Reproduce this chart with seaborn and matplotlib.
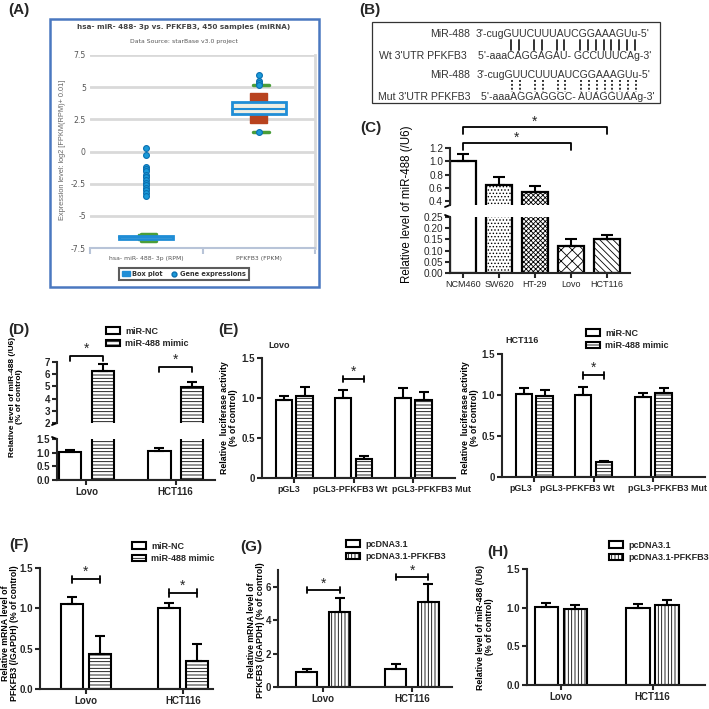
import numpy as np
import pandas as pd
import seaborn as sns
import matplotlib.pyplot as plt
import matplotlib.patches as mpatches
import matplotlib.transforms as mtransforms
from matplotlib.lines import Line2D
from matplotlib.font_manager import FontProperties
from matplotlib.textpath import text_to_path

# ---------------- data ----------------
# (A) starBase box plot
a_cats = ['hsa- miR- 488- 3p (RPM)', 'PFKFB3 (FPKM)']
a_q1 = [-6.78, 2.95]
a_median = [-6.66, 3.3]
a_q3 = [-6.55, 3.83]
a_whisker_lo = [-6.92, 1.55]
a_whisker_hi = [-6.42, 5.17]
a_band_lo = [-6.9, 2.2]
a_band_hi = [-6.45, 4.55]
a_mir_points = [0.31, -0.28, -1.24, -1.37, -1.55, -1.81, -2.02, -2.23,
                -2.41, -2.59, -2.80, -3.0, -3.24, -3.45]
a_pfkfb3_points = [5.93, 5.49, 5.31, 5.18, 1.5]
a_yticks = [-7.5, -5, -2.5, 0, 2.5, 5, 7.5]

# (B) binding sites
b_labels = ['MiR-488', "Wt 3'UTR PFKFB3", 'MiR-488', "Mut 3'UTR PFKFB3"]
b_seqs = ["3'-cugGUUCUUUAUCGGAAAGUu-5'", "5'-aaaCAGGAGAU- GCCUUUCAg-3'",
          "3'-cugGUUCUUUAUCGGAAAGUu-5'", "5'-aaaAGGAGGGC- AUAGGUAAg-3'"]
b_paired = [6, 7, 9, 10, 12, 13, 15, 16, 17, 18, 19, 20, 21, 22]

# (C) miR-488 in cell lines
c_lines = ['NCM460', 'SW620', 'HT-29', 'Lovo', 'HCT116']
c_level = [1.0, 0.64, 0.53, 0.12, 0.15]
c_err = [0.11, 0.12, 0.09, 0.03, 0.02]

# (D) miR-488 after mimic
cells = ['Lovo', 'HCT116']
mir_groups = ['miR-NC', 'miR-488 mimic']
d_nc = [1.03, 1.07]
d_nc_err = [0.08, 0.1]
d_mimic = [6.3, 4.95]
d_mimic_err = [0.55, 0.4]

# (E) luciferase
e_constructs = ['pGL3', 'pGL3-PFKFB3 Wt', 'pGL3-PFKFB3 Mut']
e_lovo_nc = [0.98, 1.0, 1.0]
e_lovo_nc_err = [0.05, 0.1, 0.13]
e_lovo_mimic = [1.02, 0.24, 0.98]
e_lovo_mimic_err = [0.12, 0.03, 0.1]
e_hct_nc = [1.01, 1.0, 0.98]
e_hct_nc_err = [0.07, 0.1, 0.05]
e_hct_mimic = [0.99, 0.18, 1.02]
e_hct_mimic_err = [0.07, 0.02, 0.06]

# (F) PFKFB3 mRNA after mimic
f_nc = [1.05, 1.0]
f_nc_err = [0.09, 0.07]
f_mimic = [0.43, 0.35]
f_mimic_err = [0.23, 0.21]

# (G) PFKFB3 mRNA after overexpression
vec_groups = ['pcDNA3.1', 'pcDNA3.1-PFKFB3']
g_vec = [0.88, 1.07]
g_vec_err = [0.2, 0.31]
g_pfk = [4.48, 5.08]
g_pfk_err = [0.85, 1.1]

# (H) miR-488 after overexpression
h_vec = [1.01, 1.0]
h_vec_err = [0.05, 0.05]
h_pfk = [0.98, 1.03]
h_pfk_err = [0.06, 0.07]

# ---------------- style ----------------
sns.set_style('ticks')
plt.rcParams['font.family'] = ['Liberation Sans', 'DejaVu Sans']
plt.rcParams['font.weight'] = 'bold'
plt.rcParams['hatch.linewidth'] = 0.6
plt.rcParams['axes.linewidth'] = 1.5

W = H = 709
fig = plt.figure(figsize=(7.09, 7.09), dpi=100)
TICK = 7
YLAB = 6.3


def fx(x):
    return x / W


def fy(y):
    return 1 - y / H


def px_box(l, t, r, b):
    return [l / W, 1 - b / H, (r - l) / W, (b - t) / H]


def ylabel(x, y, text, size=YLAB, weight='bold', color='black'):
    fig.text(fx(x), fy(y), text, rotation=90, ha='center', va='center', color=color,
             fontsize=size, fontweight=weight, multialignment='center', linespacing=1.1)


def style_axis(ax, yticks, ylabels, size=TICK, weight='bold'):
    sns.despine(ax=ax)
    ax.set_yticks(yticks, ylabels, fontsize=size, fontweight=weight)
    ax.tick_params(width=1.5, length=3.5, pad=1.5)
    for lab in ax.get_xticklabels():
        lab.set_fontsize(size)
        lab.set_fontweight(weight)


def bar_panel(ax, cats, groups, vals, errs, width, gap, hatches):
    rows = [(c, g, v) for g, vs in zip(groups, vals) for c, v in zip(cats, vs)]
    df = pd.DataFrame(rows, columns=['cat', 'group', 'value'])
    sns.barplot(df, x='cat', y='value', hue='group', order=cats, hue_order=groups,
                palette=['white'] * len(groups), saturation=1, edgecolor='black',
                linewidth=1.5, width=width, gap=gap, errorbar=None, legend=False, ax=ax)
    centers = []
    for cont, h, e in zip(ax.containers, hatches, errs):
        xs = [b.get_x() + b.get_width() / 2 for b in cont]
        ys = [b.get_height() for b in cont]
        for b in cont:
            b.set_hatch(h)
        ax.errorbar(xs, ys, yerr=[np.zeros(len(e)), e], fmt='none', ecolor='black',
                    elinewidth=1.5, capsize=3.5, capthick=1.5)
        centers.append(xs)
    ax.set(xlabel='', ylabel='')
    return centers


def bracket(ax, x1, x2, y, arm, star_y, style='down'):
    kw = dict(color='black', lw=1.3, clip_on=False)
    if style == 'down':
        ax.plot([x1, x1, x2, x2], [y - arm, y, y, y - arm], **kw)
    else:
        ax.plot([x1, x2], [y, y], **kw)
        for x in (x1, x2):
            ax.plot([x, x], [y - arm, y + arm], **kw)
    ax.text((x1 + x2) / 2, star_y, '*', ha='center', va='center', fontsize=10,
            fontweight='normal', clip_on=False)


def bar_legend(labels, hatches, left, top):
    handles = [mpatches.Patch(facecolor='white', edgecolor='black', linewidth=1.5,
                              hatch=h, label=l) for l, h in zip(labels, hatches)]
    fig.legend(handles=handles, loc='upper left', bbox_to_anchor=(fx(left), fy(top)),
               bbox_transform=fig.transFigure, frameon=False,
               prop={'size': 6.5, 'weight': 'bold'}, handlelength=1.6,
               handleheight=0.8, labelspacing=0.35, handletextpad=0.5,
               borderpad=0, borderaxespad=0)


def break_marks(ax_top, ax_bot, box_top, box_bot):
    w1, h1 = box_top[2] - box_top[0], box_top[3] - box_top[1]
    w2, h2 = box_bot[2] - box_bot[0], box_bot[3] - box_bot[1]
    kw = dict(color='black', lw=1.3, clip_on=False)
    ax_top.plot([0, -5 / w1], [0, -2 / h1], transform=ax_top.transAxes, **kw)
    ax_bot.plot([0, -5 / w2], [1, 1 + 2 / h2], transform=ax_bot.transAxes, **kw)


panel_letters = {'(A)': (19, 10), '(B)': (370, 10), '(C)': (371, 128), '(D)': (19, 330),
                 '(E)': (228, 330), '(F)': (19, 545), '(G)': (251, 547), '(H)': (498, 552)}
for lab, (x, y) in panel_letters.items():
    fig.text(fx(x), fy(y), lab, ha='center', va='center', fontsize=11, fontweight='bold')

# ---------------- (A) ----------------
fig.add_artist(mpatches.Rectangle((fx(50), fy(287)), 269 / W, 268 / H,
                                  transform=fig.transFigure, fill=False,
                                  edgecolor='#4a78c0', lw=1.8))
fig.text(fx(184), fy(27), 'hsa- miR- 488- 3p vs. PFKFB3, 450 samples (miRNA)',
         ha='center', va='center', fontsize=5.2, fontweight='bold', color='#444444',
         family='DejaVu Sans')
fig.text(fx(184), fy(41), 'Data Source: starBase v3.0 project', ha='center',
         va='center', fontsize=4.4, fontweight='normal', color='#555555',
         family='DejaVu Sans')

axA = fig.add_axes(px_box(90, 55, 315, 248))
band_colors = ['#4a9e3a', '#b8431f']
for i in range(len(a_cats)):
    axA.add_patch(mpatches.Rectangle((i - 0.075, a_band_lo[i]), 0.15,
                                     a_band_hi[i] - a_band_lo[i],
                                     color=band_colors[i], zorder=2))
    axA.add_patch(mpatches.Rectangle((i - 0.24, a_q1[i]), 0.48, a_q3[i] - a_q1[i],
                                     facecolor='#efefe4', edgecolor='#1f8dd6',
                                     lw=2, zorder=3))
    axA.plot([i - 0.24, i + 0.24], [a_median[i]] * 2, color='#1f8dd6', lw=1.5, zorder=4)
    for yw in (a_whisker_lo[i], a_whisker_hi[i]):
        axA.plot([i - 0.05, i + 0.09], [yw, yw], color='#4a9e3a', lw=2.5,
                 zorder=2.5 if i == 0 else 4)

pts = pd.DataFrame({'cat': [a_cats[0]] * len(a_mir_points) + [a_cats[1]] * len(a_pfkfb3_points),
                    'val': a_mir_points + a_pfkfb3_points})
sns.stripplot(pts, x='cat', y='val', order=a_cats, jitter=False, color='#1a9ad9',
              edgecolor='#0a6fb0', linewidth=0.8, size=4.2, ax=axA, zorder=5)
axA.set(xlabel='', ylabel='')
axA.set_xlim(-0.5, 1.5)
axA.set_ylim(-7.5, 7.5)
axA.set_yticks(a_yticks, [f'{t:g}' for t in a_yticks], fontsize=5.6,
               fontweight='normal', color='#555555', family='DejaVu Sans')
axA.set_xticks([0, 1], a_cats, fontsize=4.4, fontweight='normal', color='#555555',
               family='DejaVu Sans')
axA.set_xticks([-0.5, 0.5, 1.5], minor=True)
axA.tick_params(axis='y', length=0, pad=3)
axA.tick_params(axis='x', which='major', length=0, pad=6)
axA.tick_params(axis='x', which='minor', length=4, width=1.5, color='#b8c4d8')
axA.set_axisbelow(True)
axA.yaxis.grid(True, color='#d9d9d9', lw=2)
for s in ('left', 'top'):
    axA.spines[s].set_visible(False)
axA.spines['right'].set_color('#d9d9d9')
axA.spines['right'].set_linewidth(2)
axA.spines['bottom'].set_color('#b8c4d8')
axA.spines['bottom'].set_linewidth(1.5)
ylabel(62, 150, 'Expression level: log2 [FPKM(RPM)+ 0.01]', size=5.3, weight='normal',
       color='#666666')

legA = fig.legend(handles=[mpatches.Patch(color='#1f8dd6', label='Box plot'),
                           Line2D([], [], marker='o', ls='', color='#1a9ad9',
                                  mec='#0a6fb0', ms=3.5, label='Gene expressions')],
                  loc='center', bbox_to_anchor=(fx(184), fy(274)),
                  bbox_transform=fig.transFigure, ncol=2, fancybox=False,
                  edgecolor='#333333', prop={'size': 4.8, 'weight': 'bold',
                                            'family': 'DejaVu Sans'},
                  handlelength=1.2, handleheight=0.8, handletextpad=0.4,
                  columnspacing=1.0, borderpad=0.45)
legA.get_frame().set_linewidth(1.5)
for t in legA.get_texts():
    t.set_color('#333333')

# ---------------- (B) ----------------
fig.add_artist(mpatches.Rectangle((fx(372), fy(103)), (660 - 372) / W, (103 - 22) / H,
                                  transform=fig.transFigure, fill=False,
                                  edgecolor='#333333', lw=0.9))
b_rows = [34, 56, 75, 97]
b_label_right = [470, 467, 470, 470]
b_seq_left = [476, 478, 477, 481]
B_SIZE = 7.6
fp = FontProperties(family='Liberation Sans', size=B_SIZE)


def text_px(s):
    return text_to_path.get_text_width_height_descent(s, fp, ismath=False)[0] * 100 / 72


for lab, seq, y, xr, xl in zip(b_labels, b_seqs, b_rows, b_label_right, b_seq_left):
    fig.text(fx(xr), fy(y), lab, ha='right', va='center', fontsize=B_SIZE,
             fontweight='normal', color='#333333')
    fig.text(fx(xl), fy(y), seq, ha='left', va='center', fontsize=B_SIZE,
             fontweight='normal', color='#333333')

for row, (y0, y1, ls) in zip([0, 2], [(40, 50, '-'), (80, 92, (0, (1, 1)))]):
    seq = b_seqs[row]
    for k in b_paired:
        xc = b_seq_left[row] + (text_px(seq[:k]) + text_px(seq[:k + 1])) / 2
        fig.add_artist(Line2D([fx(xc), fx(xc)], [fy(y0), fy(y1)], color='#333333',
                              lw=1.4, ls=ls, transform=fig.transFigure))

# ---------------- (C) ----------------
boxC_top, boxC_bot = (450, 148, 630, 205), (450, 217, 630, 273)
axC_top = fig.add_axes(px_box(*boxC_top))
axC_bot = fig.add_axes(px_box(*boxC_bot))
c_hatches = ['', '.....', 'xxxxxxx', 'xxx', '\\\\\\\\\\']
c_df = pd.DataFrame({'line': c_lines, 'level': c_level})
for ax in (axC_top, axC_bot):
    sns.barplot(c_df, x='line', y='level', order=c_lines, color='white', saturation=1,
                edgecolor='black', linewidth=1.6, width=0.7, errorbar=None, ax=ax)
    bars = ax.containers[0]
    for b, h in zip(bars, c_hatches):
        b.set_hatch(h)
    xs = [b.get_x() + b.get_width() / 2 for b in bars]
    ax.errorbar(xs, c_level, yerr=[np.zeros(len(c_err)), c_err], fmt='none',
                ecolor='black', elinewidth=1.5, capsize=4.5, capthick=1.5)
    ax.set(xlabel='', ylabel='')
    ax.set_xlim(-0.36, 4.64)
axC_top.set_ylim(0.34, 1.2)
axC_bot.set_ylim(0, 0.25)
style_axis(axC_top, [0.4, 0.6, 0.8, 1.0, 1.2], ['0.4', '0.6', '0.8', '1.0', '1.2'],
           size=7.2, weight='normal')
style_axis(axC_bot, [0, 0.05, 0.1, 0.15, 0.2, 0.25],
           ['0.00', '0.05', '0.10', '0.15', '0.20', '0.25'], size=7.2, weight='normal')
axC_top.spines['bottom'].set_visible(False)
axC_top.tick_params(axis='x', length=0, labelbottom=False)
axC_bot.set_xticks(range(len(c_lines)), c_lines, fontsize=6.5, fontweight='normal')
break_marks(axC_top, axC_bot, boxC_top, boxC_bot)
bracket(axC_top, xs[0], xs[4], 1.51, 0.1, 1.6)
bracket(axC_top, xs[0], xs[3], 1.277, 0.1, 1.35)
ylabel(407, 204, 'Relative level of miR-488 (/U6)', size=8.3, weight='normal')

# ---------------- (D) ----------------
mimic_hatches = ['', '-----']
boxD_top, boxD_bot = (57, 362, 215, 423), (57, 439, 215, 480)
axD_top = fig.add_axes(px_box(*boxD_top))
axD_bot = fig.add_axes(px_box(*boxD_bot))
for ax in (axD_top, axD_bot):
    dcent = bar_panel(ax, cells, mir_groups, [d_nc, d_mimic], [d_nc_err, d_mimic_err],
                      0.73, 0.31, mimic_hatches)
    ax.set_xlim(-0.33, 1.44)
axD_top.set_ylim(2, 7)
axD_bot.set_ylim(0, 1.5)
style_axis(axD_top, [2, 3, 4, 5, 6, 7], ['2', '3', '4', '5', '6', '7'])
style_axis(axD_bot, [0, 0.5, 1.0, 1.5], ['0.0', '0.5', '1.0', '1.5'])
axD_top.spines['bottom'].set_visible(False)
axD_top.tick_params(axis='x', length=0, labelbottom=False)
break_marks(axD_top, axD_bot, boxD_top, boxD_bot)
bracket(axD_top, dcent[0][0], dcent[1][0], 7.5, 0.45, 8.1)
bracket(axD_top, dcent[0][1], dcent[1][1], 6.63, 0.45, 7.2)
bar_legend(mir_groups, mimic_hatches, 106, 327)
ylabel(16, 397, 'Relative level of miR-488 (/U6)\n(% of control)', size=6)

# ---------------- (E) ----------------
for box, title, tx, nc, nce, mm, mme, lab_x, shifts in [
        ((262, 358, 455, 478), 'Lovo', 268, e_lovo_nc, e_lovo_nc_err, e_lovo_mimic,
         e_lovo_mimic_err, 229, [-5, -3, 18]),
        ((502, 354, 705, 477), 'HCT116', 505, e_hct_nc, e_hct_nc_err, e_hct_mimic,
         e_hct_mimic_err, 470, [-13, -16, 14])]:
    ax = fig.add_axes(px_box(*box))
    ecent = bar_panel(ax, e_constructs, mir_groups, [nc, mm], [nce, mme], 0.7, 0.22,
                      mimic_hatches)
    ax.set_xlim(-0.54, (box[2] - box[0]) / 59.5 - 0.54)
    ax.set_ylim(0, 1.5)
    style_axis(ax, [0, 0.5, 1.0, 1.5], ['0', '0.5', '1.0', '1.5'])
    for lab, dx in zip(ax.get_xticklabels(), shifts):
        lab.set_fontsize(6.4)
        lab.set_transform(lab.get_transform() +
                          mtransforms.ScaledTranslation(dx / 100, 0, fig.dpi_scale_trans))
    bracket(ax, ecent[0][1], ecent[1][1], 1.24, 0.04, 1.33, style='beam')
    fig.text(fx(tx), fy(box[1] - 13), title, ha='left', va='center', fontsize=6.5,
             fontweight='bold')
    ylabel(lab_x, 418, 'Relative  luciferase activity\n(% of control)')
bar_legend(mir_groups, mimic_hatches, 586, 329)

# ---------------- (F) ----------------
axF = fig.add_axes(px_box(40, 568, 213, 689))
fcent = bar_panel(axF, cells, mir_groups, [f_nc, f_mimic], [f_nc_err, f_mimic_err],
                  0.58, 0.22, mimic_hatches)
axF.set_xlim(-0.47, 1.31)
axF.set_ylim(0, 1.5)
style_axis(axF, [0, 0.5, 1.0, 1.5], ['0.0', '0.5', '1.0', '1.5'])
bracket(axF, fcent[0][0], fcent[1][0], 1.36, 0.045, 1.45, style='beam')
bracket(axF, fcent[0][1], fcent[1][1], 1.19, 0.045, 1.28, style='beam')
bar_legend(mir_groups, mimic_hatches, 132, 542)
ylabel(10, 633, 'Relative mRNA level of\nPFKFB3 (/GAPDH) (% of control)')

# ---------------- (G) ----------------
vec_hatches = ['', '|||||']
axG = fig.add_axes(px_box(278, 570, 452, 687))
gcent = bar_panel(axG, cells, vec_groups, [g_vec, g_pfk], [g_vec_err, g_pfk_err],
                  0.74, 0.36, vec_hatches)
axG.set_xlim(-0.51, 1.45)
axG.set_ylim(0, 7)
style_axis(axG, [0, 2, 4, 6], ['0', '2', '4', '6'])
bracket(axG, gcent[0][0], gcent[1][0], 5.8, 0.18, 6.2, style='beam')
bracket(axG, gcent[0][1], gcent[1][1], 6.6, 0.18, 6.98, style='beam')
bar_legend(vec_groups, vec_hatches, 346, 540)
ylabel(256, 630, 'Relative mRNA level of\nPFKFB3 (/GAPDH) (% of control)')

# ---------------- (H) ----------------
axH = fig.add_axes(px_box(527, 569, 705, 685))
bar_panel(axH, cells, vec_groups, [h_vec, h_pfk], [h_vec_err, h_pfk_err],
          0.63, 0.18, vec_hatches)
axH.set_xlim(-0.37, 1.57)
axH.set_ylim(0, 1.5)
style_axis(axH, [0, 0.5, 1.0, 1.5], ['0.0', '0.5', '1.0', '1.5'])
bar_legend(vec_groups, vec_hatches, 609, 541)
ylabel(485, 627, 'Relative level of miR-488 (/U6)\n(% of control)')

fig.savefig('out.png', dpi=100)
